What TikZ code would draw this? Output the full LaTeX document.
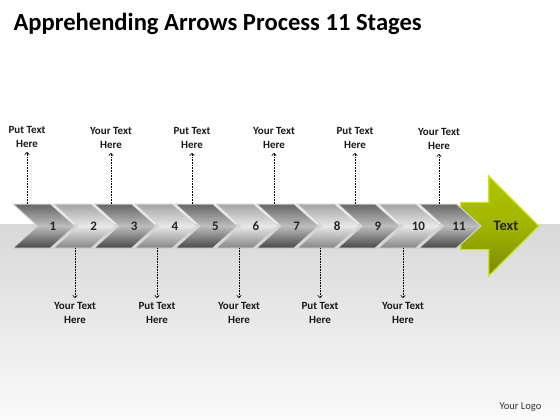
\documentclass[tikz,border=0pt]{standalone}
\usepackage{fontspec}
\setmainfont{Carlito}
\usetikzlibrary{shapes.symbols,shapes.arrows,arrows.meta}
\definecolor{rimgray}{HTML}{D4D4D4}
\definecolor{darktop}{HTML}{666666}
\definecolor{darkmid}{HTML}{BDBDBD}
\definecolor{darkbot}{HTML}{484848}
\definecolor{lighttop}{HTML}{A4A4A4}
\definecolor{lightmid}{HTML}{E8E8E8}
\definecolor{lightbot}{HTML}{868686}
\definecolor{greentop}{HTML}{B0C400}
\definecolor{greenmid}{HTML}{A0B500}
\definecolor{greenbot}{HTML}{778900}
\definecolor{greenrim}{HTML}{CFE21C}
\definecolor{floortop}{HTML}{D8D8D8}
\definecolor{floorbot}{HTML}{FAFAFA}
\begin{document}
\begin{tikzpicture}
[
    x=1pt, y=-1pt,
    chev/.style={shape=signal, signal to=east, signal from=west, signal pointer angle=84,
        minimum width=62pt, minimum height=44pt, inner sep=0pt, outer sep=0pt,
        draw=rimgray, line width=1pt},
    darkchev/.style={chev, top color=darktop, bottom color=darkbot, middle color=darkmid},
    lightchev/.style={chev, top color=lighttop, bottom color=lightbot, middle color=lightmid},
    num/.style={font=\bfseries\fontsize{13}{15}\selectfont, text=black!85, xshift=9pt},
    note/.style={font=\bfseries\fontsize{11}{14}\selectfont, align=center, inner sep=1pt, text=black!90},
    dotline/.style={densely dotted, line width=0.6pt, shorten >=3pt,
        -{Straight Barb[length=2.5pt,width=4.5pt]}},
]
\useasboundingbox (0,0) rectangle (560,420);
\fill[white] (0,0) rectangle (560,420);
\shade[top color=floortop, bottom color=floorbot] (0,224) rectangle (560,420);

\node [anchor=base west, font=\bfseries\fontsize{24.6}{28}\selectfont] (title) at (10,31)
{Apprehending Arrows Process 11 Stages};
\node [anchor=base west, font=\fontsize{10.5}{12}\selectfont, text=black!80] (logo) at (496,409)
{Your Logo};

\node [shape=single arrow, single arrow head extend=26.5pt, single arrow tip angle=90,
    minimum height=78pt, inner xsep=0pt, inner ysep=23pt, outer sep=0pt,
    top color=greentop, bottom color=greenbot, middle color=greenmid,
    draw=greenrim, line width=1.2pt,
    label={[font=\bfseries\fontsize{14.5}{16}\selectfont, text=black!85, xshift=18pt]center:Text}]
    (goal) at (488,226) {};

\node [darkchev, label={[num]center:1}] (c1) at (44,226) {};
\node [lightchev, label={[num]center:2}] (c2) at ([xshift=40.6pt]c1.center) {};
\node [darkchev, label={[num]center:3}] (c3) at ([xshift=40.6pt]c2.center) {};
\node [lightchev, label={[num]center:4}] (c4) at ([xshift=40.6pt]c3.center) {};
\node [darkchev, label={[num]center:5}] (c5) at ([xshift=40.6pt]c4.center) {};
\node [lightchev, label={[num]center:6}] (c6) at ([xshift=40.6pt]c5.center) {};
\node [darkchev, label={[num]center:7}] (c7) at ([xshift=40.6pt]c6.center) {};
\node [lightchev, label={[num]center:8}] (c8) at ([xshift=40.6pt]c7.center) {};
\node [darkchev, label={[num]center:9}] (c9) at ([xshift=40.6pt]c8.center) {};
\node [lightchev, label={[num]center:10}] (c10) at ([xshift=40.6pt]c9.center) {};
\node [darkchev, label={[num]center:11}] (c11) at ([xshift=40.6pt]c10.center) {};

\node [note] (t1) at (27,137) {Put Text\\Here};
\node [note] (t2) at (111,138) {Your Text\\Here};
\node [note] (t3) at (192,138) {Put Text\\Here};
\node [note] (t4) at (274,138) {Your Text\\Here};
\node [note] (t5) at (355,138) {Put Text\\Here};
\node [note] (t6) at (439,139) {Your Text\\Here};
\node [note] (b1) at (75,313) {Your Text\\Here};
\node [note] (b2) at (157,313) {Put Text\\Here};
\node [note] (b3) at (239,313) {Your Text\\Here};
\node [note] (b4) at (320,313) {Put Text\\Here};
\node [note] (b5) at (403,313) {Your Text\\Here};

\draw [dotline] (c1.north -| t1.south) -- (t1.south);
\draw [dotline] (c3.north -| t2.south) -- (t2.south);
\draw [dotline] (c5.north -| t3.south) -- (t3.south);
\draw [dotline] (c7.north -| t4.south) -- (t4.south);
\draw [dotline] (c9.north -| t5.south) -- (t5.south);
\draw [dotline] (c11.north -| t6.south) -- (t6.south);
\draw [dotline] (c2.south -| b1.north) -- (b1.north);
\draw [dotline] (c4.south -| b2.north) -- (b2.north);
\draw [dotline] (c6.south -| b3.north) -- (b3.north);
\draw [dotline] (c8.south -| b4.north) -- (b4.north);
\draw [dotline] (c10.south -| b5.north) -- (b5.north);
\end{tikzpicture}
\end{document}
